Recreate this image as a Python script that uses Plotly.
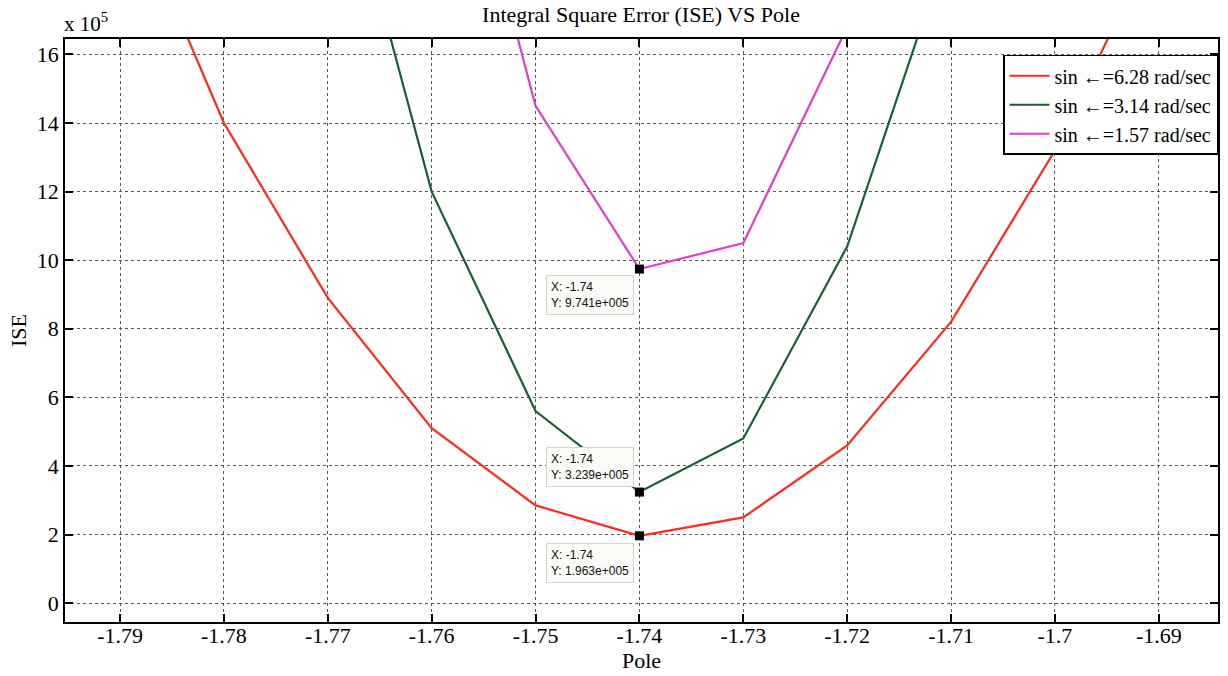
import plotly.graph_objects as go

# Pole locations and integral square error for three sinusoidal inputs
pole_628 = [-1.79, -1.78, -1.77, -1.76, -1.75, -1.74, -1.73, -1.72, -1.71, -1.70, -1.69]
ise_628 = [21.1e5, 14.0e5, 8.9e5, 5.1e5, 2.85e5, 1.963e5, 2.5e5, 4.6e5, 8.2e5, 13.2e5, 19.6e5]

pole_314 = [-1.77, -1.76, -1.75, -1.74, -1.73, -1.72, -1.71]
ise_314 = [23.3e5, 12.0e5, 5.6e5, 3.239e5, 4.8e5, 10.4e5, 19.4e5]

pole_157 = [-1.76, -1.75, -1.74, -1.73, -1.72]
ise_157 = [26.0e5, 14.5e5, 9.741e5, 10.5e5, 16.8e5]

series_names = ["sin \u2190=6.28 rad/sec", "sin \u2190=3.14 rad/sec", "sin \u2190=1.57 rad/sec"]
series_colors = ["#ff2a1a", "#1b5e34", "#e040c8"]

# Highlighted minima (data cursors)
tip_x = [-1.74, -1.74, -1.74]
tip_y = [9.741e5, 3.239e5, 1.963e5]

x_ticks = [-1.79, -1.78, -1.77, -1.76, -1.75, -1.74, -1.73, -1.72, -1.71, -1.70, -1.69]
x_tick_text = ["-1.79", "-1.78", "-1.77", "-1.76", "-1.75", "-1.74", "-1.73", "-1.72", "-1.71", "-1.7", "-1.69"]
y_ticks = [0, 2, 4, 6, 8, 10, 12, 14, 16]

SCALE = 1e5
SERIF = "Liberation Serif, Times New Roman, serif"

fig = go.Figure()
for xs, ys, name, color in zip([pole_628, pole_314, pole_157],
                               [ise_628, ise_314, ise_157],
                               series_names, series_colors):
    fig.add_trace(go.Scatter(
        x=xs, y=[v / SCALE for v in ys], mode="lines", name=name,
        line=dict(color=color, width=2.2),
    ))

fig.add_trace(go.Scatter(
    x=tip_x, y=[v / SCALE for v in tip_y], mode="markers", showlegend=False,
    marker=dict(symbol="square", size=9, color="black"),
))

# Data-cursor boxes
tip_layout = [
    dict(yanchor="top", yshift=-6),
    dict(yanchor="bottom", yshift=5),
    dict(yanchor="top", yshift=-7),
]
for tx, ty, lay in zip(tip_x, tip_y, tip_layout):
    fig.add_annotation(
        x=tx, y=ty / SCALE, xref="x", yref="y",
        text=f"X: {tx:g}<br>Y: {ty / SCALE:.3f}e+005",
        showarrow=False, align="left", xanchor="right", xshift=-5,
        font=dict(family="Liberation Sans, Arial, sans-serif", size=12, color="#111"),
        bgcolor="#fafaf6", bordercolor="#d4d4cc", borderwidth=1, borderpad=4,
        **lay,
    )

fig.add_annotation(
    x=0, y=1, xref="paper", yref="paper", xanchor="left", yanchor="bottom",
    text="x 10<sup>5</sup>", showarrow=False, yshift=1, xshift=-3,
    font=dict(family=SERIF, size=21, color="black"),
)

axis_common = dict(
    showline=True, linecolor="black", linewidth=1.5, mirror="ticks",
    ticks="inside", ticklen=8, tickwidth=1.5, tickcolor="black",
    showgrid=True, gridcolor="#555555", griddash="dot", gridwidth=1,
    zeroline=False, automargin=False,
    tickfont=dict(family=SERIF, size=22, color="black"),
)

fig.update_layout(
    width=1228, height=676,
    margin=dict(l=65, r=10, t=39, b=54),
    paper_bgcolor="white", plot_bgcolor="white",
    title=dict(text="Integral Square Error (ISE) VS Pole", x=0.522, xanchor="center",
               y=0.99, yanchor="top",
               font=dict(family=SERIF, size=22, color="black")),
    xaxis=dict(range=[-1.7953, -1.6843], tickvals=x_ticks, ticktext=x_tick_text,
               ticklabelstandoff=-7,
               title=dict(text="Pole", font=dict(family=SERIF, size=22, color="black"), standoff=0),
               **axis_common),
    yaxis=dict(range=[-0.55, 16.45], tickvals=y_ticks,
               title=dict(text="ISE", font=dict(family=SERIF, size=22, color="black"), standoff=4),
               **axis_common),
    legend=dict(x=1, y=0.973, xanchor="right", yanchor="top",
                bgcolor="white", bordercolor="black", borderwidth=1.5,
                font=dict(family=SERIF, size=20, color="black"),
                tracegroupgap=0, itemwidth=40),
    showlegend=True,
)

fig.write_html("out.html")
